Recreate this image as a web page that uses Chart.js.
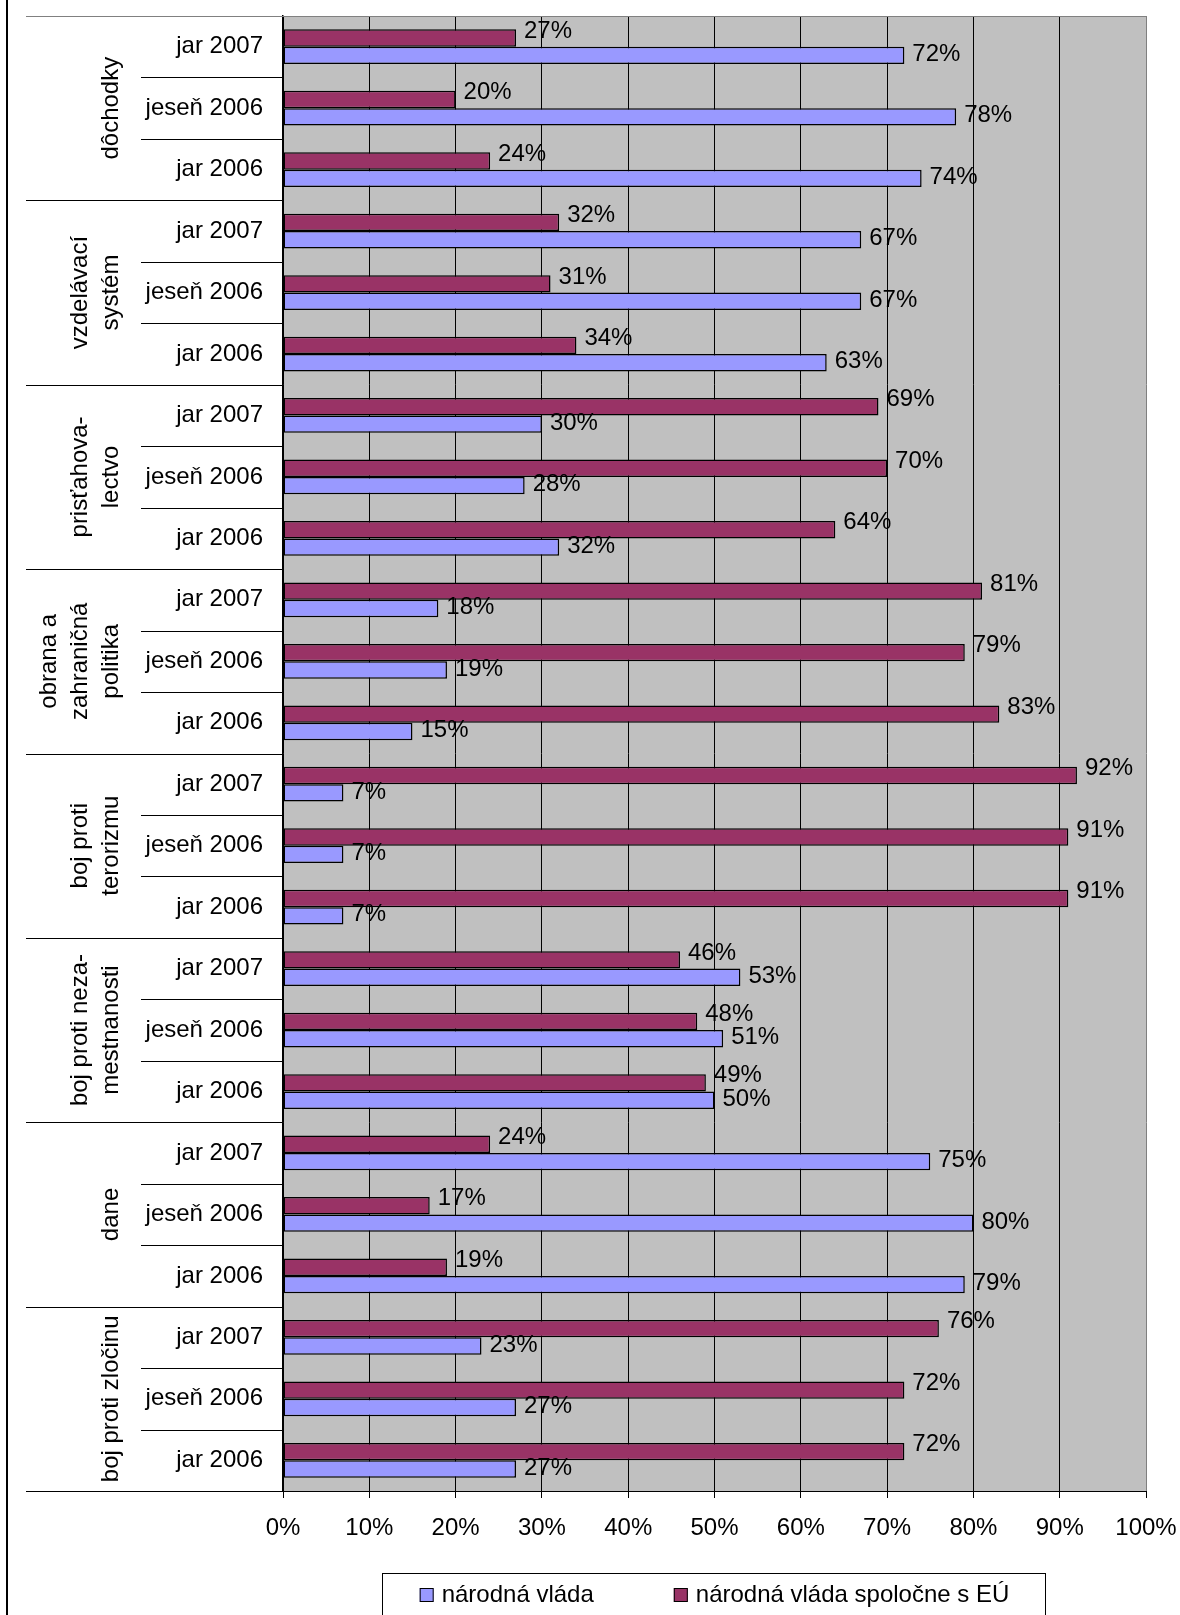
<!DOCTYPE html>
<html>
<head>
<meta charset="utf-8">
<script src="https://cdn.jsdelivr.net/npm/chart.js@4.4.0/dist/chart.umd.min.js"></script>
<style>
    body { margin: 0; background: #fff; }
    #wrap { width: 1180px; height: 1615px; }
</style>
</head>
<body>
<div id="wrap"><canvas id="pollChart" width="1180" height="1615"></canvas></div>
<script>
// Data (top to bottom)
const groupLabels = [
    ["dôchodky"],
    ["vzdelávací", "systém"],
    ["prisťahova-", "lectvo"],
    ["obrana a", "zahraničná", "politika"],
    ["boj proti", "terorizmu"],
    ["boj proti neza-", "mestnanosti"],
    ["dane"],
    ["boj proti zločinu"]
];
const periods = ["jar 2007", "jeseň 2006", "jar 2006"];
const narodnaVlada = [72, 78, 74, 67, 67, 63, 30, 28, 32, 18, 19, 15, 7, 7, 7, 53, 51, 50, 75, 80, 79, 23, 27, 27];
const spolocneSEU = [27, 20, 24, 32, 31, 34, 69, 70, 64, 81, 79, 83, 92, 91, 91, 46, 48, 49, 24, 17, 19, 76, 72, 72];
const xTicks = [0, 10, 20, 30, 40, 50, 60, 70, 80, 90, 100];

const rowLabels = groupLabels.flatMap(() => periods);
const FONT = '"Liberation Sans", Arial, sans-serif';

Chart.defaults.font.family = FONT;
Chart.defaults.font.size = 24;
Chart.defaults.color = "#000";

// no extra room for label overflow, the layout padding decides the plot box
function noScalePadding(scale) {
    scale.paddingTop = 0;
    scale.paddingBottom = 0;
    scale.paddingLeft = 0;
    scale.paddingRight = 0;
}

// Gray plot background, frame, dividers of the label column, group names and legend
const decorPlugin = {
    id: "decor",
    beforeDraw(chart) {
        const { ctx, chartArea: a } = chart;
        ctx.save();
        ctx.fillStyle = "#C0C0C0";
        ctx.fillRect(a.left, a.top, a.right - a.left, a.bottom - a.top);
        ctx.restore();
    },
    afterDraw(chart) {
        const { ctx, chartArea: a } = chart;
        const y = chart.scales.y;
        const rowH = (a.bottom - a.top) / rowLabels.length;
        ctx.save();

        // outer left border
        ctx.fillStyle = "#000";
        ctx.fillRect(6, 0, 2, 1615);

        // top edge of plot and label area
        ctx.strokeStyle = "#808080";
        ctx.lineWidth = 1;
        ctx.beginPath();
        ctx.moveTo(26, Math.round(a.top) + 0.5);
        ctx.lineTo(a.right, Math.round(a.top) + 0.5);
        ctx.stroke();

        // row and group dividers
        ctx.strokeStyle = "#000";
        for (let k = 1; k <= rowLabels.length; k++) {
            const py = Math.round(a.top + k * rowH) + 0.5;
            ctx.beginPath();
            ctx.moveTo(k % 3 === 0 ? 26 : 141, py);
            ctx.lineTo(a.left, py);
            ctx.stroke();
        }

        // rotated group names
        ctx.font = "24px " + FONT;
        ctx.fillStyle = "#000";
        ctx.textAlign = "center";
        ctx.textBaseline = "alphabetic";
        groupLabels.forEach((lines, g) => {
            const yc = (y.getPixelForValue(g * 3) + y.getPixelForValue(g * 3 + 2)) / 2;
            lines.forEach((line, i) => {
                const bx = 118 - (lines.length - 1 - i) * 31;
                ctx.save();
                ctx.translate(bx, yc);
                ctx.rotate(-Math.PI / 2);
                ctx.fillText(line, 0, 0);
                ctx.restore();
            });
        });

        // legend box
        ctx.strokeStyle = "#000";
        ctx.strokeRect(382.5, 1573.5, 663, 60);
        const items = [chart.data.datasets[1], chart.data.datasets[0]];
        ctx.textAlign = "left";
        ctx.textBaseline = "middle";
        const widths = items.map(d => ctx.measureText(d.label).width);
        const total = widths[0] + widths[1] + 2 * (14 + 8) + 80;
        let lx = (a.left + a.right) / 2 - total / 2;
        const ly = 1595;
        items.forEach((d, i) => {
            ctx.fillStyle = d.backgroundColor;
            ctx.fillRect(lx, ly - 7, 14, 14);
            ctx.strokeStyle = "#000";
            ctx.strokeRect(lx + 0.5, ly - 6.5, 13, 13);
            ctx.fillStyle = "#000";
            ctx.fillText(d.label, lx + 22, ly);
            lx += 22 + widths[i] + 80;
        });
        ctx.restore();
    }
};

// Percent labels right of each bar
const valueLabels = {
    id: "valueLabels",
    afterDatasetsDraw(chart) {
        const { ctx } = chart;
        ctx.save();
        ctx.font = "24px " + FONT;
        ctx.fillStyle = "#000";
        ctx.textAlign = "left";
        ctx.textBaseline = "middle";
        chart.data.datasets.forEach((ds, di) => {
            chart.getDatasetMeta(di).data.forEach((bar, i) => {
                ctx.fillText(ds.data[i] + "%", bar.x + 8, bar.y + (di === 0 ? -7 : -1));
            });
        });
        ctx.restore();
    }
};

new Chart(document.getElementById("pollChart"), {
    type: "bar",
    data: {
        labels: rowLabels,
        datasets: [
            {
                label: "národná vláda spoločne s EÚ",
                data: spolocneSEU,
                backgroundColor: "#993366",
                borderColor: "#000",
                borderWidth: 1.5,
                borderSkipped: false
            },
            {
                label: "národná vláda",
                data: narodnaVlada,
                backgroundColor: "#9999FF",
                borderColor: "#000",
                borderWidth: 1.5,
                borderSkipped: false
            }
        ]
    },
    options: {
        indexAxis: "y",
        responsive: false,
        animation: false,
        categoryPercentage: 0.565,
        barPercentage: 1.0,
        layout: { padding: { top: 16, right: 34, left: 0, bottom: 0 } },
        plugins: {
            legend: { display: false },
            tooltip: { enabled: false }
        },
        scales: {
            x: {
                min: 0,
                max: 100,
                afterBuildTicks(scale) {
                    scale.ticks = xTicks.map(v => ({ value: v }));
                },
                afterFit(scale) {
                    scale.height = 124;
                    noScalePadding(scale);
                },
                ticks: {
                    callback: v => v + "%",
                    padding: 16,
                    maxRotation: 0,
                    font: { size: 24 }
                },
                grid: {
                    color: c => (c.index === xTicks.length - 1 ? "#808080" : "#000"),
                    tickColor: "#000",
                    tickLength: 7,
                    lineWidth: 1
                },
                border: { color: "#000", width: 1 }
            },
            y: {
                afterFit(scale) {
                    scale.width = 283;
                    noScalePadding(scale);
                },
                ticks: { padding: 20, font: { size: 24 } },
                grid: { display: false, drawTicks: false },
                border: { color: "#000", width: 1.5 }
            }
        }
    },
    plugins: [decorPlugin, valueLabels]
});
</script>
</body>
</html>
